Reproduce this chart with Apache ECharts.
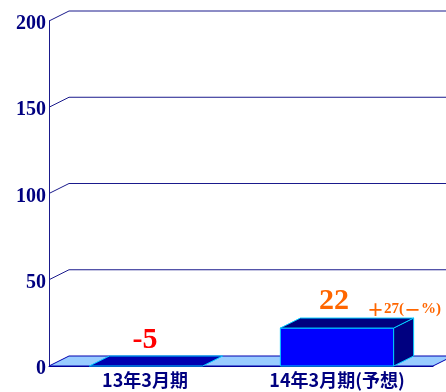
<!DOCTYPE html>
<html>
<head>
<meta charset="utf-8">
<style>html,body{margin:0;padding:0;background:#fff}#c{width:446px;height:392px}</style>
<script src="https://cdn.jsdelivr.net/npm/echarts@6/dist/echarts.min.js"></script>
</head>
<body>
<div id="c"></div>
<script>
// Fiscal-year results, drawn as 3D-style boxes on a floor with receding gridlines
const categories = ['13年3月期', '14年3月期(予想)'];
const values = [-5, 22];
const valueColors = ['#ff0000', '#ff6600'];
const yTicks = [50, 100, 150, 200];
const yMin = 0;
const yMax = 200;
const yStep = 50;

// Oblique projection offset of the back plane
const DX = 20, DY = -10;
const BAR_SHARE = 0.59;
const NAVY = '#000080';

const chart = echarts.init(document.getElementById('c'), null, { renderer: 'canvas' });

function poly(points, fill, stroke, lw) {
  return { type: 'polygon', shape: { points }, style: { fill, stroke: stroke || 'none', lineWidth: lw || 1 } };
}

function renderWall(params, api) {
  const a = api.coord([0, api.value(0)]);
  const left = params.coordSys.x;
  const right = left + params.coordSys.width;
  return {
    type: 'polyline',
    shape: { points: [[left, a[1]], [left + DX, a[1] + DY], [right + DX, a[1] + DY]] },
    style: { fill: 'none', stroke: '#1a1a8c', lineWidth: 1 },
    silent: true
  };
}

function renderFloor(params, api) {
  const y = api.coord([0, 0])[1];
  const l = params.coordSys.x;
  const r = l + params.coordSys.width;
  return poly([[l, y], [r, y], [r + DX, y + DY], [l + DX, y + DY]], '#99ccff', '#0000b0', 1);
}

function renderBox(params, api) {
  const i = api.value(0);
  const v = api.value(1);
  const c = api.coord([i, 0]);
  const band = api.size([1, 0])[0];
  const w = band * BAR_SHARE;
  const l = c[0] - w / 2 + (v >= 0 ? 0 : 1);
  const r = l + w;
  const b = c[1];
  const t = api.coord([i, Math.max(v, 0)])[1];
  const edge = '#00ccff';
  const children = [];
  if (v >= 0) {
    children.push(poly([[l, b], [r, b], [r, t], [l, t]], '#0000ff', edge, 1));
    children.push(poly([[r, b], [r + DX, b + DY], [r + DX, t + DY], [r, t]], NAVY, edge, 1));
    children.push(poly([[l, t], [r, t], [r + DX, t + DY], [l + DX, t + DY]], NAVY, edge, 1));
  } else {
    children.push(poly([[l, t], [r, t], [r + DX, t + DY], [l + DX, t + DY]], '#0000b0', edge, 1));
  }
  children.push({
    type: 'text',
    style: {
      x: c[0] + (v >= 0 ? -3 : 0),
      y: (v >= 0 ? t + DY - 2 : t + DY - 1),
      text: String(v),
      align: 'center',
      verticalAlign: 'bottom',
      fill: valueColors[i],
      font: 'bold 30px "Liberation Serif"'
    }
  });
  return { type: 'group', children };
}

chart.setOption({
  animation: false,
  backgroundColor: '#ffffff',
  grid: { left: 49, right: 13, top: 21, bottom: 26, containLabel: false },
  xAxis: {
    type: 'category',
    data: categories,
    boundaryGap: true,
    axisLine: { show: true, lineStyle: { color: NAVY, width: 1 } },
    axisTick: { show: true, inside: true, length: 6, alignWithLabel: false, lineStyle: { color: '#1a1a8c' } },
    axisLabel: {
      color: NAVY, fontFamily: '"Noto Sans CJK JP"', fontWeight: 'bold', fontSize: 18,
      margin: 5, interval: 0
    },
    splitLine: { show: false }
  },
  yAxis: {
    type: 'value',
    min: yMin, max: yMax, interval: yStep,
    axisLine: { show: true, lineStyle: { color: '#1a1a8c', width: 1 } },
    axisTick: { show: false },
    axisLabel: {
      margin: 3,
      formatter: '{t|{value}}',
      rich: {
        t: {
          color: NAVY, fontFamily: '"Liberation Serif"', fontWeight: 'bold', fontSize: 20,
          padding: [6, 0, 0, 0]
        }
      }
    },
    splitLine: { show: false }
  },
  graphic: [{
    type: 'text',
    left: 367, top: 301,
    style: {
      text: '{p|＋}{n|27(}{p|－}{n|%)}',
      rich: {
        p: { fill: '#ff6600', font: 'bold 17px "Noto Sans CJK JP"' },
        n: { fill: '#ff6600', font: 'bold 15px "Liberation Serif"' }
      }
    }
  }],
  series: [
    { type: 'custom', coordinateSystem: 'cartesian2d', clip: false, z: 1, silent: true,
      data: yTicks.map(t => [0, t]), encode: { x: 0, y: 1 },
      renderItem: (p, api) => renderWall(p, { coord: api.coord, value: () => api.value(1) }) },
    { type: 'custom', coordinateSystem: 'cartesian2d', clip: false, z: 2, silent: true,
      data: [[0, 0]], encode: { x: 0, y: 1 }, renderItem: renderFloor },
    { type: 'custom', coordinateSystem: 'cartesian2d', clip: false, z: 3, silent: true,
      data: values.map((v, i) => [i, v]), encode: { x: 0, y: 1 }, renderItem: renderBox }
  ]
});
</script>
</body>
</html>
